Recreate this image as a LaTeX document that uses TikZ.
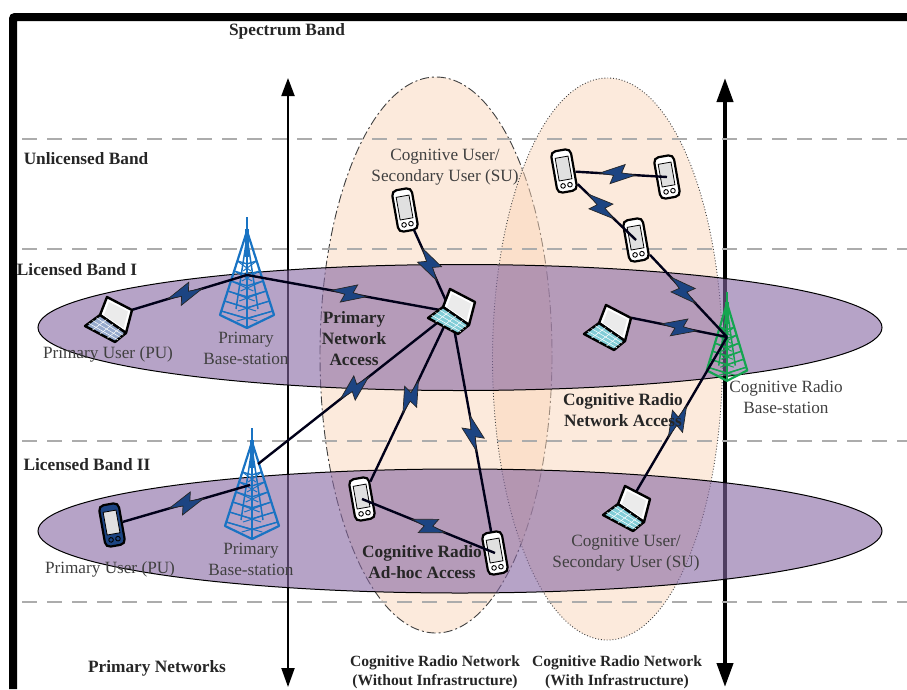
\documentclass[tikz,border=0pt]{standalone}
\usepackage{fontspec}
\setmainfont{Liberation Serif}
\usetikzlibrary{arrows.meta,calc}

\definecolor{bandfill}{rgb}{.52,.40,.63}
\definecolor{cogfill}{RGB}{250,214,186}
\definecolor{towerblue}{RGB}{25,115,195}
\definecolor{towergreen}{RGB}{20,165,80}
\definecolor{boltblue}{RGB}{28,68,130}
\definecolor{keygrey}{RGB}{150,170,205}
\definecolor{keyteal}{RGB}{130,205,215}

\newcommand{\zap}[3][.5]{\draw[radio] (#2) -- pic[pos=#1,sloped]{bolt} (#3);}

\tikzset{
  radio/.style={line width=2.4pt,draw=black!90!blue},
  band/.style={fill=bandfill,fill opacity=.6,draw=black,line width=1pt},
  cognet/.style={fill=cogfill,fill opacity=.5,draw=black!75,line width=.9pt},
  bandline/.style={draw=gray!65,line width=1.8pt,dash pattern=on 15pt off 10pt},
  device/.style={inner sep=0pt,minimum width=#1},
  heading/.style={font=\fontsize{17.3}{21}\selectfont\bfseries,text=black!85,align=center},
  caption/.style={font=\fontsize{15.6}{19}\selectfont\bfseries,text=black!85,align=center},
  plain/.style={font=\fontsize{17.2}{21}\selectfont,text=black!75,align=center},
  pics/bolt/.style={code={
    \filldraw[fill=boltblue,draw=black!85,line width=.7pt] (-18,0) -- (7,-10) -- (4,-1.5) -- (18,0) -- (-7,10) -- (-4,1.5) -- cycle;
  }},
  pics/tower/.style={code={
    \draw[#1,line width=2pt] (0,0) -- (0,111);
    \draw[#1,line width=4pt] (0,12) -- (0,40);
    \draw[#1,line width=2.2pt,line join=round] (0,14) -- (-27,98) -- (0,111) -- (27,98) -- cycle;
    \draw[#1,line width=1.5pt] (0,20) -- (-11,92) (0,20) -- (11,92);
    \foreach \y in {44,54,...,94} {
      \pgfmathsetmacro\w{27*(\y-14)/84}
      \draw[#1,line width=1.4pt] (-\w,\y) -- (0,\y+.3*\w) -- (\w,\y);
      \draw[#1,line width=1pt] (-\w,\y) -- (.4*\w,\y+10) (\w,\y) -- (-.4*\w,\y+10);
    }
  }},
  pics/laptop/.style={code={
    \draw[fill=white,draw=black,line width=2.4pt,line join=round] (-1,-23) -- (24,-10) -- (18,13) -- (-8,-5) -- cycle;
    \fill[black!8] (1,-18) -- (20,-8.5) -- (15.5,8) -- (-4,-5) -- cycle;
    \draw[fill=#1,draw=black,line width=2.4pt,line join=round] (-23,6) -- (-8,-5) -- (18,13) -- (7,22) -- cycle;
    \foreach \t in {.25,.5,.75} {
      \draw[white,line width=.5pt] ($(-23,6)!\t!(7,22)$) -- ($(-8,-5)!\t!(18,13)$);
      \draw[white,line width=.5pt] ($(-23,6)!\t!(-8,-5)$) -- ($(7,22)!\t!(18,13)$);
    }
  }},
  pics/handset/.style={code={
    \draw[fill=#1,draw=black,line width=2.2pt,rounded corners=5pt] (-10,-21) rectangle (10,21);
    \draw[fill=black!12,draw=black,line width=.8pt] (-6.5,-14) rectangle (6.5,9);
    \draw[line width=.9pt] (-3.5,14.5) circle[radius=2.3] (3.5,14.5) circle[radius=2.3];
  }},
}

\begin{document}
\begin{tikzpicture}[x=1pt,y=-1pt]
  \useasboundingbox (0,0) rectangle (907,689);

  \draw[cognet,dash pattern=on 9pt off 3pt on 2pt off 3pt] (436,355) ellipse [x radius=116,y radius=278];
  \draw[cognet,dotted] (607.5,359) ellipse [x radius=115,y radius=281];

  \draw[line width=8pt,rounded corners=2pt] (13,689) -- (13,17) -- (907,17);

  \coordinate (axisatop) at (288,78);
  \coordinate (axisabot) at (288,687);
  \coordinate (axisbtop) at (725,78);
  \coordinate (axisbbot) at (725,687);
  \draw[line width=2pt,{Triangle[length=18pt,width=13pt]}-{Triangle[length=19pt,width=13pt]}] (axisatop) -- (axisabot);
  \draw[line width=4pt,{Triangle[length=24pt,width=16pt]}-{Triangle[length=24pt,width=16pt]}] (axisbtop) -- (axisbbot);

  \foreach \y in {139,249,441,602} {
    \draw[bandline] (22,\y) -- (907,\y);
  }

  \draw[band] (460,327.5) ellipse [x radius=422,y radius=63];
  \draw[band] (460,531) ellipse [x radius=422,y radius=62];

  \pic at (247,217) {tower=towerblue};
  \pic at (252,428) {tower=towerblue};
  \pic[xscale=.75,yscale=.8] at (727,292) {tower=towergreen};

  \coordinate (hubupper) at (247,275);
  \coordinate (hublowa) at (258,464);
  \coordinate (hublowb) at (250,485);
  \coordinate (hubcog) at (727,337);

  \node[device=48pt,minimum height=20pt] (lappu) at (108,320) {};
  \node[device=48pt,minimum height=20pt] (lapcu) at (451,312) {};
  \node[device=48pt,minimum height=20pt] (lapbs) at (607,328) {};
  \node[device=48pt,minimum height=20pt] (lapsu) at (626,509) {};
  \node[device=22pt,minimum height=42pt,rotate=10] (telpu) at (112,525) {};
  \node[device=22pt,minimum height=42pt,rotate=10] (telsu) at (405,210) {};
  \node[device=22pt,minimum height=42pt,rotate=10] (telhoca) at (362,499) {};
  \node[device=22pt,minimum height=42pt,rotate=10] (telhocb) at (495,553) {};
  \node[device=22pt,minimum height=42pt,rotate=10] (telnet) at (564,171) {};
  \node[device=22pt,minimum height=42pt,rotate=10] (telnor) at (667,177) {};
  \node[device=22pt,minimum height=42pt,rotate=10] (telmid) at (636,240) {};

  \pic[rotate=10] at (telpu) {handset=boltblue};
  \pic[rotate=10] at (telsu) {handset=white};
  \pic[rotate=10] at (telhoca) {handset=white};
  \pic[rotate=10] at (telhocb) {handset=white};
  \pic[rotate=10] at (telnet) {handset=white};
  \pic[rotate=10] at (telnor) {handset=white};
  \pic[rotate=10] at (telmid) {handset=white};

  \zap[.46]{lappu.north east}{hubupper}
  \zap{hubupper}{lapcu.center}
  \zap[.42]{telsu}{lapcu.center}
  \zap{lapcu.center}{hublowa}
  \zap{lapcu.center}{telhoca}
  \zap[.55]{lapcu.center}{telhocb}
  \zap{telhoca.center}{telhocb.center}
  \zap{telpu}{hublowb}
  \zap[.46]{telnet}{telnor.center}
  \zap[.4]{telnet}{telmid.center}
  \zap[.43]{telmid}{hubcog}
  \zap{lapbs.north east}{hubcog}
  \zap[.51]{lapsu.center}{hubcog}

  \pic at (lappu) {laptop=keygrey};
  \pic at (lapcu) {laptop=keyteal};
  \pic at (lapbs) {laptop=keyteal};
  \pic at (lapsu) {laptop=keyteal};

  \node[heading] (spectrum) at (287,31) {Spectrum Band};
  \node[heading] (unlicensed) at (86,159) {Unlicensed Band};
  \node[heading] (licensedi) at (77,269.5) {Licensed Band I};
  \node[heading] (licensedii) at (87,465) {Licensed Band II};
  \node[heading] (primnets) at (157,668) {Primary Networks};

  \node[plain] (sulabtop) at (445,167) {Cognitive User/\\Secondary User (SU)};
  \node[plain] (pulabtop) at (108,354) {Primary User (PU)};
  \node[plain] (bslabtop) at (246,348) {Primary\\Base-station};
  \node[heading] (primacc) at (354,339) {Primary\\Network\\Access};
  \node[heading] (cogacc) at (623,410) {Cognitive Radio\\Network Access};
  \node[plain] (cogbs) at (786,397.5) {Cognitive Radio\\Base-station};
  \node[plain] (pulablow) at (110,569) {Primary User (PU)};
  \node[plain] (bslablow) at (251,559) {Primary\\Base-station};
  \node[heading] (hocacc) at (422,562) {Cognitive Radio\\Ad-hoc Access};
  \node[plain] (sulablow) at (626,553) {Cognitive User/\\Secondary User (SU)};
  \node[caption] (capwithout) at (435,672) {Cognitive Radio Network\\(Without Infrastructure)};
  \node[caption] (capwith) at (617,672) {Cognitive Radio Network\\(With Infrastructure)};
\end{tikzpicture}
\end{document}
